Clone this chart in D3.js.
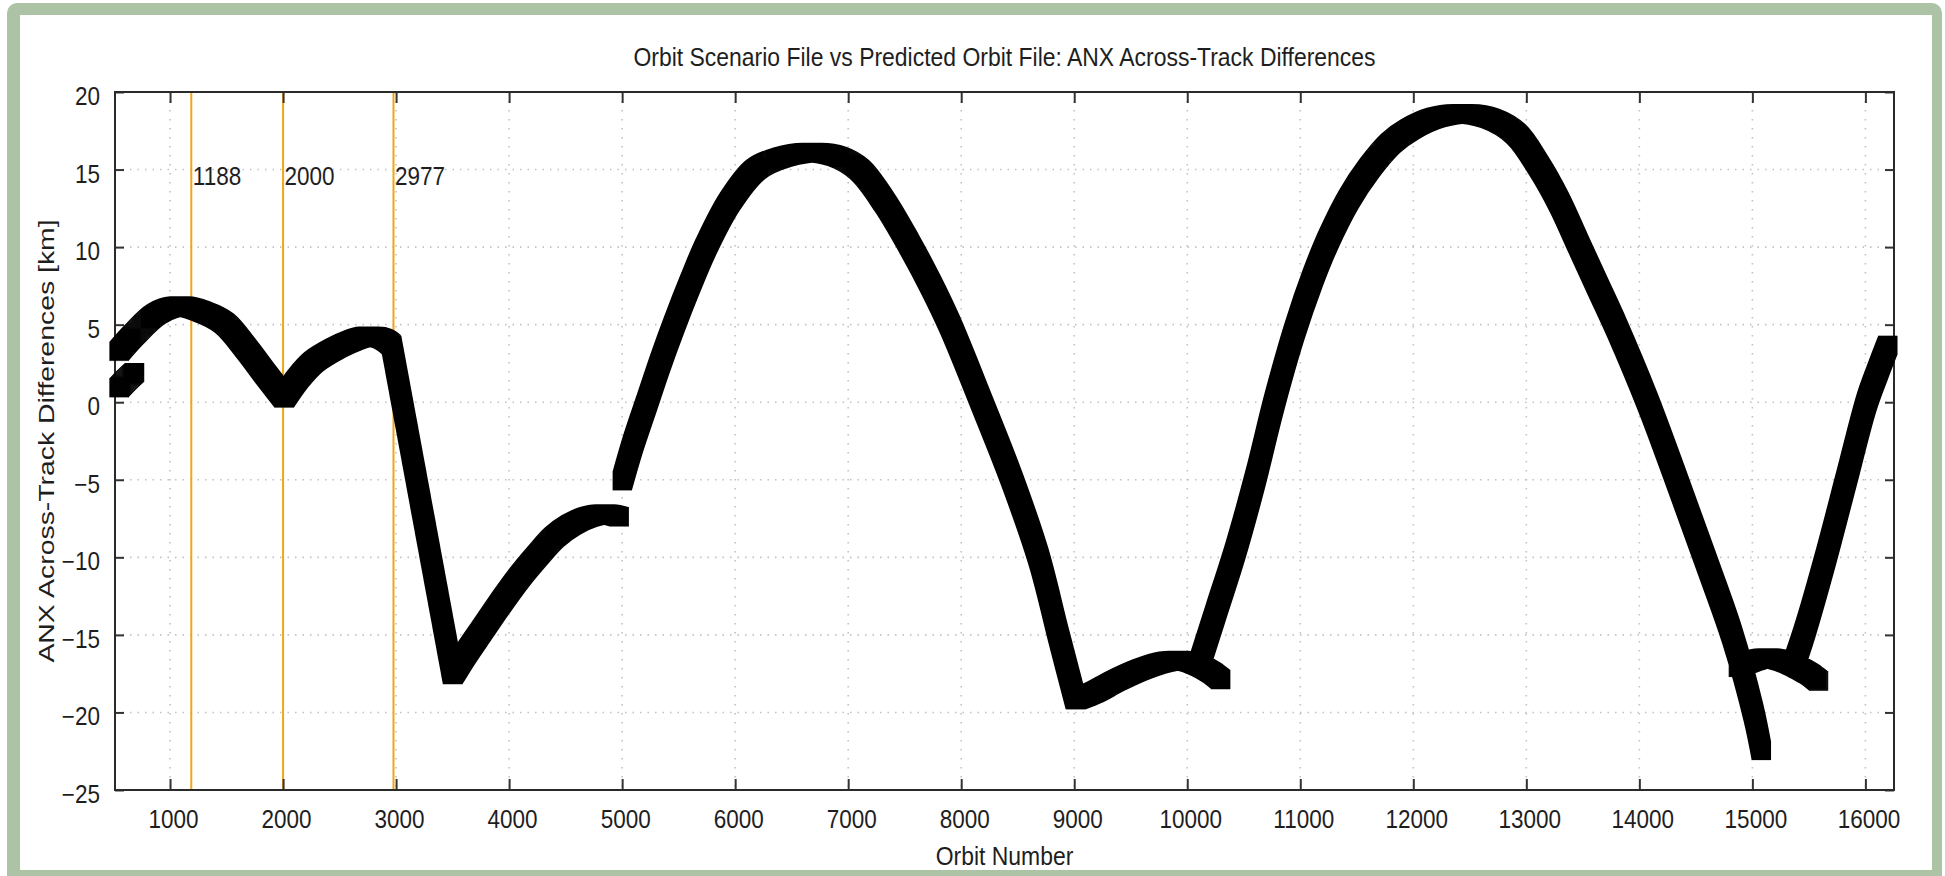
<!DOCTYPE html>
<html>
<head>
<meta charset="utf-8">
<script src="https://cdn.jsdelivr.net/npm/d3@7"></script>
<style>
  body { margin: 0; background: #fff; }
  svg { display: block; }
  text { font-family: "Liberation Sans", Arial, sans-serif; fill: #1e1e1e; }
</style>
</head>
<body>
<div id="app"></div>
<script>
const W = 1945, H = 876;
const margin = {top: 92, right: 51, bottom: 86, left: 115}
    , width = W - margin.left - margin.right
    , height = H - margin.top - margin.bottom;

const TITLE = "Orbit Scenario File vs Predicted Orbit File: ANX Across-Track Differences";
const X_LABEL = "Orbit Number";
const Y_LABEL = "ANX Across-Track Differences [km]";

const X_DOMAIN = [513, 16253];
const Y_DOMAIN = [-25, 20];
const X_TICKS = [1000, 2000, 3000, 4000, 5000, 6000, 7000, 8000, 9000, 10000, 11000, 12000, 13000, 14000, 15000, 16000];
const Y_TICKS = [-25, -20, -15, -10, -5, 0, 5, 10, 15, 20];
const MARKERS = [1188, 2000, 2977];

// [orbit, across-track difference km].
// pieces share their end points where the curve has a sharp corner
const segStart = [[545, 0.9], [610, 1.4], [690, 1.95]];
const firstHump = [[545, 3.25], [680, 4.35], [880, 5.7], [1080, 6.2], [1280, 5.85], [1480, 5.1], [1680, 3.4],
  [1850, 1.75], [2010, 0.25]];
const secondHump = [[2010, 0.25], [2130, 1.5], [2270, 2.6], [2470, 3.5], [2620, 4.0], [2750, 4.25], [2880, 4.1],
  [2960, 3.7]];
const firstDrop = [[2960, 3.7], [3500, -17.6]];
const recovery = [[3500, -17.6], [3620, -16.2], [3770, -14.6], [3920, -13.0], [4090, -11.3], [4250, -9.9],
  [4400, -8.7], [4550, -7.9], [4700, -7.4], [4850, -7.2], [4980, -7.4]];
const secondArc = [[5000, -5.1], [5100, -2.6], [5220, 0], [5340, 2.6], [5460, 5.0], [5600, 7.6], [5740, 10.0],
  [5950, 12.9], [6180, 15.0], [6420, 15.8], [6680, 16.1], [6900, 15.85], [7100, 15.0], [7320, 12.9],
  [7540, 10.2], [7730, 7.6], [7900, 5.0], [8180, 0], [8450, -5], [8685, -10], [8860, -15], [9010, -19.2]];
const secondTrough = [[9010, -19.2], [9180, -18.7], [9357, -18.0], [9600, -17.2], [9830, -16.7], [10000, -16.7],
  [10110, -17.0], [10210, -17.4], [10300, -17.9]];
const thirdArc = [[10110, -16.8], [10250, -13.6], [10425, -9.6], [10600, -5.0], [10770, 0], [10950, 4.6],
  [11110, 8.0], [11250, 10.5], [11430, 13.1], [11612, 15.1], [11800, 16.7], [11970, 17.6], [12200, 18.35],
  [12437, 18.6], [12680, 18.3], [12909, 17.3], [13113, 15.2], [13290, 12.9], [13460, 10.2], [13630, 7.5],
  [13800, 4.8], [14075, 0], [14330, -5], [14578, -10], [14820, -15], [15009, -20], [15080, -22.5]];
const thirdTrough = [[14870, -17.1], [14960, -16.8], [15060, -16.55], [15165, -16.5], [15280, -16.7],
  [15400, -17.1], [15500, -17.5], [15590, -18.0]];
const lastRise = [[15380, -16.6], [15470, -14.6], [15650, -10.0], [15830, -5.0], [16011, 0], [16110, 2.0],
  [16200, 3.7]];

const SEGMENTS = [segStart, firstHump, secondHump, firstDrop, recovery, secondArc, secondTrough,
  thirdArc, thirdTrough, lastRise];

const SQUEEZE = 0.9;   // glyphs in the source are narrower than they are tall

const x = d3.scaleLinear().domain(X_DOMAIN).range([0, width]);
const y = d3.scaleLinear().domain(Y_DOMAIN).range([height, 0]);

const svg = d3.select("#app").append("svg")
    .attr("width", W)
    .attr("height", H);

// green card frame
svg.append("rect")
    .attr("x", 7).attr("y", 3)
    .attr("width", 1935).attr("height", 900)
    .attr("rx", 10)
    .attr("fill", "#adc3a6");
svg.append("rect")
    .attr("x", 20).attr("y", 15)
    .attr("width", 1912).attr("height", 855)
    .attr("fill", "#fff");

// square pen, like the filled square points of the original plot
svg.append("defs").append("filter")
    .attr("id", "brush")
    .attr("x", "-5%").attr("y", "-5%")
    .attr("width", "110%").attr("height", "110%")
  .append("feMorphology")
    .attr("operator", "dilate")
    .attr("radius", "9 9");

const plot = svg.append("g")
    .attr("transform", `translate(${margin.left}, ${margin.top})`);

// dotted grid
plot.append("g").attr("class", "grid")
  .selectAll("line")
    .data(X_TICKS)
  .enter().append("line")
    .attr("x1", d => x(d)).attr("x2", d => x(d))
    .attr("y1", 0).attr("y2", height)
    .attr("stroke", "#c2c2c2")
    .attr("stroke-width", 1.6)
    .attr("stroke-dasharray", "1.5,7.5");

plot.append("g").attr("class", "grid")
  .selectAll("line")
    .data(Y_TICKS.filter(d => d > Y_DOMAIN[0] && d < Y_DOMAIN[1]))
  .enter().append("line")
    .attr("x1", 0).attr("x2", width)
    .attr("y1", d => y(d)).attr("y2", d => y(d))
    .attr("stroke", "#c2c2c2")
    .attr("stroke-width", 1.6)
    .attr("stroke-dasharray", "1.5,6");

// orbit markers
plot.selectAll(".marker")
    .data(MARKERS)
  .enter().append("line")
    .attr("class", "marker")
    .attr("x1", d => x(d)).attr("x2", d => x(d))
    .attr("y1", 0).attr("y2", height)
    .attr("stroke", "#f2a516")
    .attr("stroke-width", 2);

// axes, ticks pointing inwards on all four sides
function styleAxis(sel) {
  sel.select(".domain").remove();
  sel.selectAll(".tick line").attr("stroke", "#333").attr("stroke-width", 2);
  sel.selectAll(".tick text")
      .style("font-size", "25px")
      .attr("fill", "#1e1e1e")
      .attr("x", function () { return (+d3.select(this).attr("x") || 0) / SQUEEZE; })
      .attr("transform", `scale(${SQUEEZE},1)`);
}

plot.append("g")
    .attr("transform", `translate(0, ${height})`)
    .call(d3.axisBottom(x).tickValues(X_TICKS).tickSize(-11).tickPadding(20).tickFormat(d3.format("d")))
    .call(styleAxis)
    .selectAll(".tick text").attr("dx", 3 / SQUEEZE);

plot.append("g")
    .call(d3.axisTop(x).tickValues(X_TICKS).tickSize(-11).tickFormat(() => ""))
    .call(styleAxis);

plot.append("g")
    .call(d3.axisLeft(y).tickValues(Y_TICKS).tickSize(-9).tickPadding(15).tickFormat(d3.format("d")))
    .call(styleAxis)
    .selectAll(".tick text").attr("dy", "0.5em");

plot.append("g")
    .attr("transform", `translate(${width}, 0)`)
    .call(d3.axisRight(y).tickValues(Y_TICKS).tickSize(-9).tickFormat(() => ""))
    .call(styleAxis);

plot.append("rect")
    .attr("width", width).attr("height", height)
    .attr("fill", "none")
    .attr("stroke", "#2a2a2a")
    .attr("stroke-width", 2);

// the difference curve: thin line dilated into a square-pen band
const line = d3.line()
    .curve(d3.curveCatmullRom.alpha(0.5))
    .x(d => x(d[0]))
    .y(d => y(d[1]));

plot.append("g")
    .attr("filter", "url(#brush)")
  .selectAll("path")
    .data(SEGMENTS)
  .enter().append("path")
    .attr("d", line)
    .attr("fill", "none")
    .attr("stroke", "#000")
    .attr("stroke-width", 1.5)
    .attr("stroke-linejoin", "round");

// marker labels
plot.selectAll(".marker-label")
    .data(MARKERS)
  .enter().append("g")
    .attr("class", "marker-label")
    .attr("transform", d => `translate(${x(d) + 1.5}, ${y(15) + 15}) scale(${SQUEEZE},1)`)
  .append("text")
    .style("font-size", "25px")
    .text(d => d);

// titles
svg.append("g")
    .attr("transform", `translate(${margin.left + width / 2}, 66) scale(${SQUEEZE},1)`)
  .append("text")
    .attr("text-anchor", "middle")
    .style("font-size", "25.5px")
    .text(TITLE);

svg.append("g")
    .attr("transform", `translate(${margin.left + width / 2}, 865) scale(${SQUEEZE},1)`)
  .append("text")
    .attr("text-anchor", "middle")
    .style("font-size", "25.5px")
    .text(X_LABEL);

svg.append("g")
    .attr("transform", `translate(54, ${margin.top + height / 2}) scale(0.8,1) rotate(-90)`)
  .append("text")
    .attr("text-anchor", "middle")
    .style("font-size", "28.4px")
    .text(Y_LABEL);
</script>
</body>
</html>
